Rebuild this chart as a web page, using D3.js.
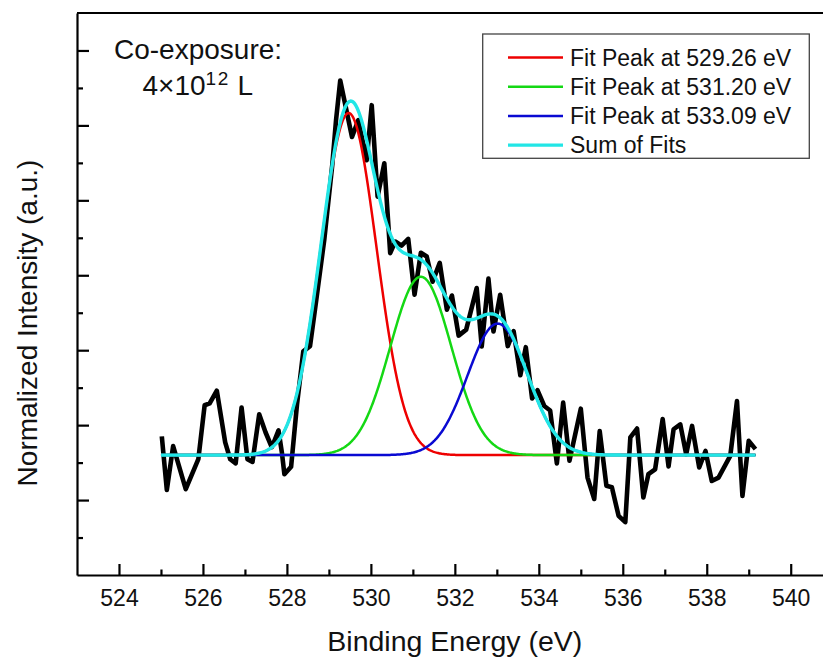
<!DOCTYPE html>
<html>
<head>
<meta charset="utf-8">
<script src="https://cdn.jsdelivr.net/npm/d3@7"></script>
<style>
    body { margin: 0; background: #fff; }
    text { font-family: Arial, "Liberation Sans", sans-serif; fill: #111; }
</style>
</head>
<body>
<svg id="chart" width="823" height="659"></svg>
<script>
// raw O 1s spectrum (binding energy in eV, normalized intensity)
const rawEnergy= [
    525.02, 525.14, 525.29, 525.59, 525.89, 526.04, 526.16, 526.33, 526.53, 526.65,
    526.78, 526.92, 527.06, 527.18, 527.34, 527.49, 527.64, 527.80, 527.88, 527.94,
    528.10, 528.24, 528.34, 528.39, 528.55, 528.70, 528.89, 529.08, 529.17, 529.27,
    529.55, 529.70, 529.90, 530.02, 530.16, 530.32, 530.46, 530.58, 530.73, 530.89,
    531.04, 531.19, 531.33, 531.47, 531.64, 531.81, 531.93, 532.09, 532.27, 532.52,
    532.64, 532.80, 532.92, 533.08, 533.26, 533.40, 533.56, 533.69, 533.84, 533.97,
    534.13, 534.27, 534.43, 534.58, 534.73, 535.00, 535.16, 535.32, 535.45, 535.61,
    535.74, 535.90, 536.06, 536.18, 536.34, 536.49, 536.61, 536.77, 536.95, 537.09,
    537.21, 537.37, 537.51, 537.65, 537.82, 537.97, 538.12, 538.28, 538.56, 538.72,
    538.85, 539.00, 539.16,
]
const rawIntensity= [
    0.170, 0.027, 0.144, 0.029, 0.109, 0.253, 0.258, 0.292, 0.154, 0.109,
    0.098, 0.247, 0.109, 0.102, 0.229, 0.181, 0.141, 0.186, 0.127, 0.069,
    0.089, 0.255, 0.349, 0.397, 0.411, 0.535, 0.695, 0.894, 1.014, 1.120,
    0.969, 1.014, 0.907, 1.054, 0.810, 0.899, 0.659, 0.690, 0.679, 0.697,
    0.548, 0.660, 0.650, 0.583, 0.633, 0.508, 0.546, 0.439, 0.455, 0.566,
    0.410, 0.591, 0.450, 0.548, 0.411, 0.451, 0.333, 0.408, 0.271, 0.293,
    0.251, 0.239, 0.098, 0.260, 0.105, 0.244, 0.060, 0.003, 0.184, 0.038,
    0.034, -0.042, -0.059, 0.167, 0.191, 0.007, 0.069, 0.082, 0.216, 0.090,
    0.189, 0.202, 0.122, 0.198, 0.087, 0.131, 0.051, 0.060, 0.118, 0.264,
    0.011, 0.158, 0.136,
]

// gaussian fit components
const peakLabels= ["Fit Peak at 529.26 eV", "Fit Peak at 531.20 eV", "Fit Peak at 533.09 eV"]
const peakCenters= [529.47, 531.19, 533.02]
const peakAmps= [0.913, 0.476, 0.351]
const peakSigmas= [0.665, 0.729, 0.717]
const peakColors= ["#ee0000", "#14d814", "#0a0ad2"]
const fitBaseline= 0.12
const fitRange= [525.0, 539.16]
const sumLabel= "Sum of Fits"
const sumColor= "#22e6e6"

// axes
const xDomain= [523, 541]
const yDomain= [-0.2, 1.3]
const xMajorTicks= [524, 526, 528, 530, 532, 534, 536, 538, 540]
const xMinorTicks= [525, 527, 529, 531, 533, 535, 537, 539]
const yMajorTicks= [0, 0.2, 0.4, 0.6, 0.8, 1.0, 1.2]
const yMinorTicks= [-0.1, 0.1, 0.3, 0.5, 0.7, 0.9, 1.1]

const svg= d3.select("#chart")
const plotLeft= 77, plotRight= 832.7, plotTop= 13, plotBottom= 575

const x= d3.scaleLinear().domain(xDomain).range([plotLeft, plotRight])
const y= d3.scaleLinear().domain(yDomain).range([plotBottom, plotTop])

// frame (top + right)
svg.append("path")
    .attr("d", `M${plotLeft},${plotTop}H${plotRight}V${plotBottom}`)
    .attr("fill", "none").attr("stroke", "#000").attr("stroke-width", 2)

// x axis
svg.append("g").attr("transform", `translate(0,${plotBottom})`)
    .call(d3.axisBottom(x).tickValues(xMinorTicks).tickSizeInner(-5.5).tickSizeOuter(0).tickFormat(""))
    .call(g => g.select(".domain").remove())
let gx= svg.append("g").attr("transform", `translate(0,${plotBottom})`)
    .call(d3.axisBottom(x).tickValues(xMajorTicks).tickSizeInner(-11).tickSizeOuter(0).tickPadding(15).tickFormat(d3.format("d")))
gx.selectAll("text").attr("font-size", 23).attr("fill", "#111")

// y axis
svg.append("g").attr("transform", `translate(${plotLeft},0)`)
    .call(d3.axisLeft(y).tickValues(yMinorTicks).tickSizeInner(-6).tickSizeOuter(0).tickFormat(""))
    .call(g => g.select(".domain").remove())
svg.append("g").attr("transform", `translate(${plotLeft},0)`)
    .call(d3.axisLeft(y).tickValues(yMajorTicks).tickSizeInner(-12).tickSizeOuter(0).tickFormat(""))
svg.selectAll("g .domain, g .tick line").attr("stroke", "#000").attr("stroke-width", 2.2)

// axis titles
svg.append("text")
    .attr("x", (plotLeft+plotRight)/2).attr("y", 651)
    .attr("text-anchor", "middle").attr("font-size", 28.5)
    .text("Binding Energy (eV)")
svg.append("text")
    .attr("transform", "translate(36.5,323) rotate(-90)")
    .attr("text-anchor", "middle").attr("font-size", 28)
    .text("Normalized Intensity (a.u.)")

// curves
const plot= svg.append("g")
const line= d3.line().x(d => x(d[0])).y(d => y(d[1]))

plot.append("path")
    .attr("d", line(rawEnergy.map((e, i) => [e, rawIntensity[i]])))
    .attr("fill", "none").attr("stroke", "#000").attr("stroke-width", 4.6)
    .attr("stroke-linejoin", "round")

const gauss= (e, i) => peakAmps[i]*Math.exp(-((e-peakCenters[i])**2)/(2*peakSigmas[i]**2))
const fitEnergy= d3.range(fitRange[0], fitRange[1], 0.02).concat([fitRange[1]])

peakCenters.forEach((c, i) => {
    plot.append("path")
        .attr("d", line(fitEnergy.map(e => [e, fitBaseline + gauss(e, i)])))
        .attr("fill", "none").attr("stroke", peakColors[i]).attr("stroke-width", 2.5)
})
plot.append("path")
    .attr("d", line(fitEnergy.map(e => [e, fitBaseline + d3.sum(peakCenters, (c, i) => gauss(e, i))])))
    .attr("fill", "none").attr("stroke", sumColor).attr("stroke-width", 3.4)

// legend
const legend= svg.append("g")
legend.append("rect")
    .attr("x", 482.7).attr("y", 34).attr("width", 326.6).attr("height", 124.3)
    .attr("fill", "#fff").attr("stroke", "#444").attr("stroke-width", 1.3)
const legendItems= peakLabels.map((l, i) => [l, peakColors[i]]).concat([[sumLabel, sumColor]])
legendItems.forEach(([label, color], i) => {
    let ly= 57.5 + i*29.2
    legend.append("line")
        .attr("x1", 508).attr("x2", 563).attr("y1", ly).attr("y2", ly)
        .attr("stroke", color).attr("stroke-width", i == 3 ? 3.4 : 2.5)
    legend.append("text")
        .attr("x", 570).attr("y", ly).attr("dy", "0.35em")
        .attr("font-size", 23)
        .text(label)
})

// annotation
svg.append("text").attr("x", 114).attr("y", 59).attr("font-size", 28).text("Co-exposure:")
let note= svg.append("text").attr("x", 142.5).attr("y", 95).attr("font-size", 28)
note.append("tspan").text("4\u00d710")
note.append("tspan").attr("font-size", 19).attr("dy", -10).attr("letter-spacing", 1.5).text("12")
note.append("tspan").attr("dy", 10).text(" L")
</script>
</body>
</html>
